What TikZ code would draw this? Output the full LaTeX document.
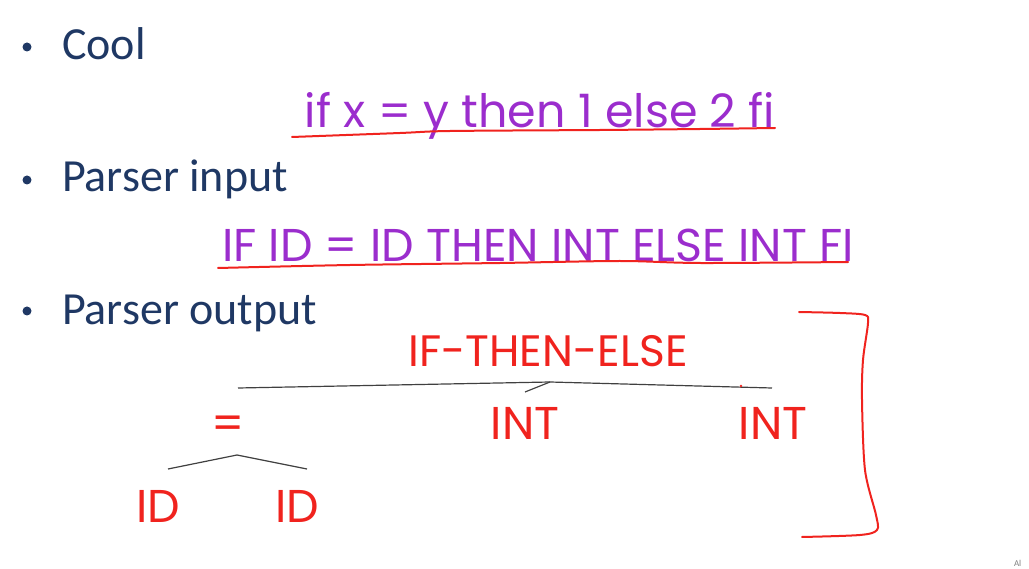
\documentclass[tikz,border=0pt]{standalone}
\usepackage{fontspec}
\setmainfont{Carlito}
\newfontfamily\gothic{Poppins}
\usetikzlibrary{positioning}
\definecolor{slideblue}{RGB}{31,56,100}
\definecolor{codepurple}{RGB}{155,45,205}
\definecolor{treered}{RGB}{240,35,30}
\begin{document}
\begin{tikzpicture}[x=1pt,y=-1pt,inner sep=0pt,outer sep=0pt,
    bullet/.style={slideblue,anchor=base west,font=\fontsize{46}{52}\selectfont},
    dot/.style={circle,fill=slideblue,minimum size=9pt},
    code/.style={codepurple,anchor=base,font=\gothic\fontsize{46}{52}\selectfont},
    tok/.style={treered,anchor=base,font=\gothic\fontsize{46}{52}\selectfont},
    branch/.style={draw=black!75,line width=1.2pt},
    scribble/.style={draw=treered,line width=2pt,line cap=round,line join=round}]
    \useasboundingbox (0,0) rectangle (1029,569);
    % bullets
    \node[dot] (d1) at (27,47) {};
    \node[dot] (d2) at (27,180) {};
    \node[dot] (d3) at (27,311) {};
    \node[bullet] (cool) at (62,60) {Cool};
    \node[bullet] (pin) at (62,192) {Parser input};
    \node[bullet] (pout) at (62,325) {Parser output};
    % source and tokens
    \node[code] (src) at (540,128) {if x = y then 1 else 2 fi};
    \node[code] (toks) at (538,262) {IF ID = ID THEN INT ELSE INT FI};
    % tree
    \node[tok,font=\gothic\fontsize{44}{50}\selectfont] (ite) at (548,367) {IF-THEN-ELSE};
    \node[tok] (eq) at (228,440) {=};
    \node[tok] (int1) at (525,440) {INT};
    \node[tok] (int2) at (773,440) {INT};
    \node[tok] (id1) at (158,522) {ID};
    \node[tok] (id2) at (297,522) {ID};
    \coordinate (top) at (550,382);
    \coordinate (eqtop) at (237,455);
    \coordinate (eqleft) at (238,388);
    \coordinate (intright) at (772,388);
    \coordinate (intmid) at (525,392);
    \coordinate (idl) at (168,469);
    \coordinate (idr) at (307,469);
    \draw[branch] (eqleft) -- (top) -- (intright);
    \draw[branch] (top) -- (intmid);
    \draw[branch] (idl) -- (eqtop) -- (idr);
    \fill[treered] (741,386) circle (1.3pt);
    % hand strokes
    \draw[scribble] plot[smooth] coordinates {(292,137) (400,133) (450,131) (600,130) (700,129) (775,128)};
    \draw[scribble] plot[smooth] coordinates {(218,268) (350,265) (500,263) (620,261) (700,263) (848,262)};
    \draw[scribble] plot[smooth] coordinates {(799,312) (840,313) (865,315) (868,323) (863,360) (862,400) (865,470) (876,515) (877,530) (860,535) (802,537)};
    \node[gray,anchor=base west,font=\fontsize{9}{10}\selectfont] (mark) at (1014,566) {Al};
\end{tikzpicture}
\end{document}
